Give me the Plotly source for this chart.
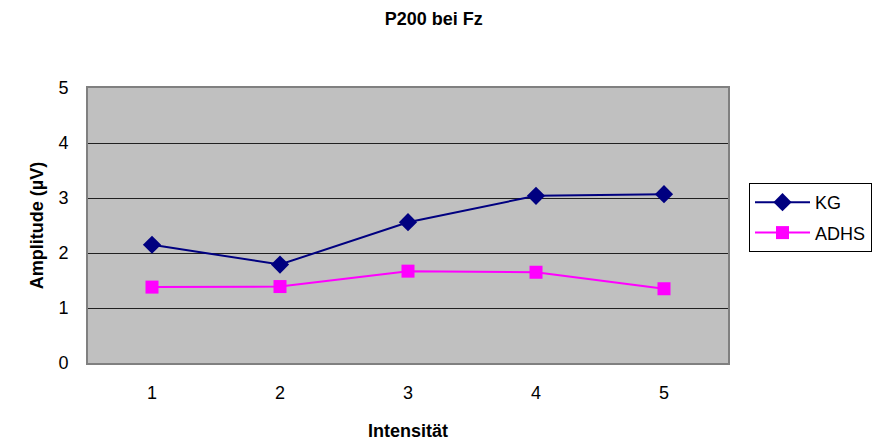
import plotly.graph_objects as go

categories = [1, 2, 3, 4, 5]
kg_values = [2.15, 1.79, 2.56, 3.04, 3.07]
adhs_values = [1.38, 1.39, 1.67, 1.65, 1.35]
y_ticks = [0, 1, 2, 3, 4, 5]

FONT = "Liberation Sans, Arial, sans-serif"

fig = go.Figure()
fig.add_trace(go.Scatter(
    x=categories, y=kg_values, name="KG", mode="lines+markers", legendgroup="kg",
    line=dict(color="#000080", width=2),
    marker=dict(symbol="diamond", size=14, color="#000080"),
))
fig.add_trace(go.Scatter(
    x=categories, y=adhs_values, name="ADHS", mode="lines+markers", legendgroup="adhs",
    line=dict(color="#FF00FF", width=2),
    marker=dict(symbol="square", size=13, color="#FF00FF"),
))

fig.update_layout(
    width=885, height=441,
    margin=dict(l=88, r=157, t=88, b=78, autoexpand=False),
    paper_bgcolor="white",
    plot_bgcolor="#C0C0C0",
    font=dict(family=FONT, size=18, color="black"),
    title=dict(text="<b>P200 bei Fz</b>", x=0.49, xanchor="center",
               y=1 - 19 / 441, yanchor="middle", font=dict(size=18)),
    showlegend=True,
    legend=dict(x=1 + 21 / 640, xanchor="left", y=(363 - 217.5) / 275, yanchor="middle",
                bordercolor="black", borderwidth=1, bgcolor="white",
                font=dict(size=18), itemwidth=55, tracegroupgap=4),
    xaxis=dict(
        range=[0.5, 5.5], tickvals=categories, ticktext=[str(c) for c in categories],
        showgrid=False, zeroline=False, showline=True, linecolor="#808080", linewidth=2,
        mirror=True, ticks="", tickfont=dict(size=18), ticklabelstandoff=12,
        automargin=False,
        title=dict(text="<b>Intensität</b>", font=dict(size=18), standoff=24),
    ),
    yaxis=dict(
        range=[0, 5], tickvals=y_ticks, showgrid=True, gridcolor="#202020", gridwidth=1,
        zeroline=False, showline=True, linecolor="#808080", linewidth=2, mirror=True,
        ticks="", tickfont=dict(size=18), ticklabelstandoff=14, automargin=False,
        title=dict(text="<b>Amplitude (µV)</b>", font=dict(size=18), standoff=10),
    ),
)

fig.write_html("out.html")
